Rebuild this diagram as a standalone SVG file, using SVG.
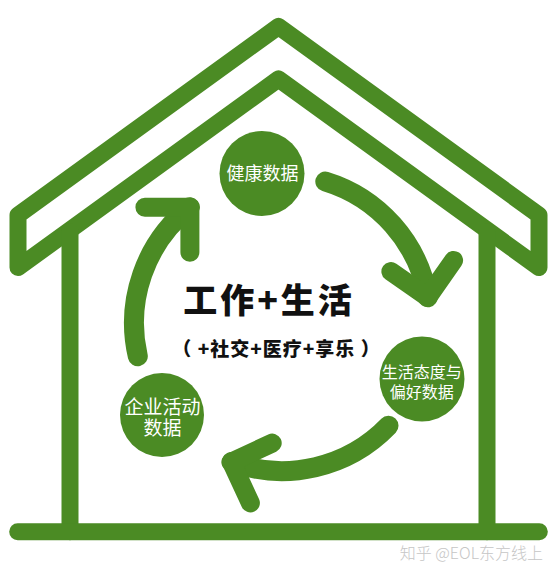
<svg xmlns="http://www.w3.org/2000/svg" width="558" height="577" viewBox="0 0 558 577">
<style>
.g{fill:none;stroke:#4b8b24;stroke-linecap:round;stroke-linejoin:round}
.house{stroke-width:17}
.shaft{stroke-width:20}
.head{stroke-width:19}
.node{fill:#4b8b24}
.nt{fill:#ffffff;font-family:"Noto Sans CJK SC","Noto Sans",sans-serif;text-anchor:middle}
.cj{font-family:"Noto Sans CJK SC","Noto Sans",sans-serif;text-anchor:middle;fill:#111}
</style>
<rect width="558" height="577" fill="#ffffff"/>
<g id="house">
<polygon class="g house" points="278.5,26.5 18,215.1 18,267.6 278.5,79 539,267.6 539,215.1"/>
<line class="g house" x1="70" y1="232" x2="70" y2="531.7"/>
<line class="g house" x1="487" y1="232" x2="487" y2="531.7"/>
<line class="g house" x1="17.7" y1="531.7" x2="539.3" y2="531.7"/>
</g>
<g id="connectors">
<path class="g shaft" d="M325.3 181.5 A148 148 0 0 1 427.8 297.3"/>
<polyline class="g head" points="390.9,271.5 427.8,297.3 453.6,260.4"/>
<path class="g shaft" d="M388.5 425.8 A148 148 0 0 1 231.4 462.1"/>
<polyline class="g head" points="272.2,443.1 231.4,462.1 250.4,502.9"/>
<path class="g shaft" d="M137.8 356.3 A148 148 0 0 1 189.9 207.2"/>
<polyline class="g head" points="144.9,207.2 189.9,207.2 189.9,252.2"/>
</g>
<g id="node-health">
<circle class="node" cx="262" cy="173.5" r="42.5"/>
<text class="nt" x="262.5" y="180" font-size="18">健康数据</text>
</g>
<g id="node-lifestyle">
<circle class="node" cx="422" cy="379" r="42.5"/>
<text class="nt" font-size="16"><tspan x="421.7" y="377.8">生活态度与</tspan><tspan x="421.7" y="397.8">偏好数据</tspan></text>
</g>
<g id="node-enterprise">
<circle class="node" cx="162" cy="415" r="42"/>
<text class="nt" font-size="19"><tspan x="162.5" y="413.8">企业活动</tspan><tspan x="162.5" y="435">数据</tspan></text>
</g>
<g id="title">
<text class="cj" x="269" y="312.6" font-size="34" font-weight="900" letter-spacing="3">工作+生活</text>
<text class="cj" x="276.5" y="355.7" font-size="19" font-weight="900" letter-spacing="1">（ +社交+医疗+享乐 ）</text>
</g>
<text x="543" y="558.5" font-size="16" font-weight="300" fill="#c6c6c6" text-anchor="end" font-family="&quot;Noto Sans CJK SC&quot;,&quot;Noto Sans&quot;,sans-serif">知乎 @EOL东方线上</text>
</svg>
